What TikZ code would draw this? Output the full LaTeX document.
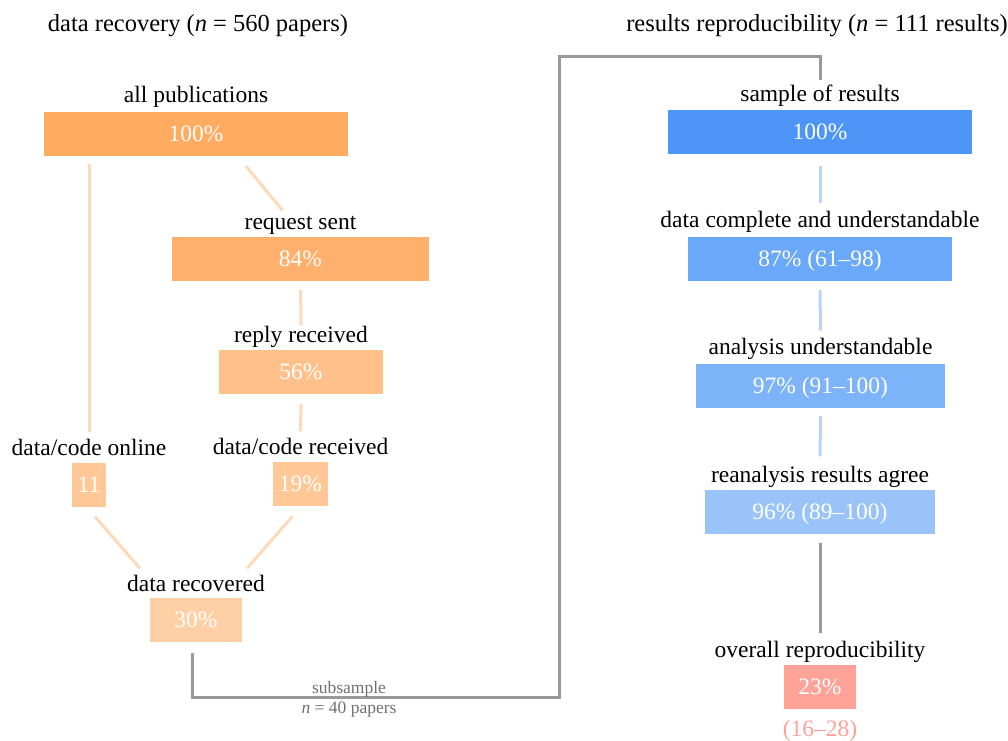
\documentclass[tikz,border=0pt]{standalone}
\usepackage{fontspec}
\setmainfont{Liberation Serif}
\usetikzlibrary{calc}

\definecolor{orangeA}{HTML}{FFAB60}
\definecolor{orangeB}{HTML}{FFB06C}
\definecolor{orangeC}{HTML}{FFC08A}
\definecolor{orangeD}{HTML}{FFC896}
\definecolor{orangeE}{HTML}{FFD0A6}
\definecolor{orangeLine}{HTML}{FFDAB8}
\definecolor{blueA}{HTML}{4D96F8}
\definecolor{blueB}{HTML}{6AA8F9}
\definecolor{blueC}{HTML}{7CB3F9}
\definecolor{blueD}{HTML}{9AC4F8}
\definecolor{blueLine}{HTML}{B8D4FA}
\definecolor{redA}{HTML}{FFA297}
\definecolor{grayLine}{HTML}{999999}
\definecolor{grayText}{HTML}{707070}

\begin{document}
\begin{tikzpicture}[
    x=1pt, y=-1pt,
    font=\fontsize{23.5}{28}\selectfont,
    every node/.style={inner sep=0pt},
    bar/.style 2 args={fill=#1, text=white, minimum width=#2pt,
      minimum height=44pt, text height=15pt, text depth=0pt},
    heading/.style={anchor=base},
    bigheading/.style={anchor=base, font=\fontsize{24.5}{29}\selectfont},
    smallnote/.style={anchor=base, text=grayText, font=\fontsize{17.5}{20}\selectfont},
    olink/.style={draw=orangeLine, line width=3pt},
    blink/.style={draw=blueLine, line width=3pt},
    glink/.style={draw=grayLine, line width=3pt},
  ]
  \useasboundingbox (0,0) rectangle (1008,740);

  % data recovery
  \node[bigheading] (recovH) at (198,31) {data recovery (\textit{n} = 560 papers)};
  \node[bar={orangeA}{304}] (allpub) at (196,134) {100\%};
  \node[bar={orangeB}{257}] (req) at (300.5,259) {84\%};
  \node[bar={orangeC}{164}] (reply) at (301,372) {56\%};
  \node[bar={orangeD}{34}] (dco) at (89,484.5) {11};
  \node[bar={orangeD}{55}] (dcr) at (300.5,484) {19\%};
  \node[bar={orangeE}{92}] (rec) at (196,620) {30\%};

  \node[heading] (allpubT) at ([yshift=9pt]allpub.north) {all publications};
  \node[heading] (reqT) at ([yshift=7pt]req.north) {request sent};
  \node[heading] (replyT) at ([yshift=7pt]reply.north) {reply received};
  \node[heading] (dcoT) at ([yshift=7pt]dco.north) {data/code online};
  \node[heading] (dcrT) at ([yshift=7pt]dcr.north) {data/code received};
  \node[heading] (recT) at ([yshift=6pt]rec.north) {data recovered};

  \draw[olink, shorten <=8pt, shorten >=7pt] (allpub.south -| dcoT.north) -- (dcoT.north);
  \draw[olink] ([xshift=50pt,yshift=-10pt]allpub.south) -- ([xshift=-18pt,yshift=6pt]reqT.north);
  \draw[olink, shorten <=9pt, shorten >=1pt] (req.south) -- (replyT.north);
  \draw[olink, shorten <=10pt, shorten >=7pt] (reply.south) -- (dcrT.north);
  \draw[olink] ([xshift=6pt,yshift=-10pt]dco.south) -- ([xshift=-56pt,yshift=7pt]recT.north);
  \draw[olink] ([xshift=-8pt,yshift=-10pt]dcr.south) -- ([xshift=51pt,yshift=7pt]recT.north);

  % results reproducibility
  \node[bigheading] (reproH) at (817,31) {results reproducibility (\textit{n} = 111 results)};
  \node[bar={blueA}{304}] (sample) at (820,132) {100\%};
  \node[bar={blueB}{264}] (compl) at (820,259) {87\% (61--98)};
  \node[bar={blueC}{249}] (anal) at (820.5,386) {97\% (91--100)};
  \node[bar={blueD}{230}] (agree) at (820,512) {96\% (89--100)};
  \node[bar={redA}{72}] (overall) at (820,687) {23\%};

  \node[heading] (sampleT) at ([yshift=8pt]sample.north) {sample of results};
  \node[heading] (complT) at ([yshift=9pt]compl.north) {data complete and understandable};
  \node[heading] (analT) at ([yshift=9pt]anal.north) {analysis understandable};
  \node[heading] (agreeT) at ([yshift=7pt]agree.north) {reanalysis results agree};
  \node[heading] (overallT) at ([yshift=7pt]overall.north) {overall reproducibility};
  \node[heading, text=redA] (overallCI) at ([yshift=-27pt]overall.south) {(16--28)};

  \draw[blink, shorten <=12pt, shorten >=8pt] (sample.south) -- (complT.north);
  \draw[blink, shorten <=9pt, shorten >=8pt] (compl.south) -- (analT.north);
  \draw[blink, shorten <=8pt, shorten >=10pt] (anal.south) -- (agreeT.north);
  \draw[glink, shorten <=9pt, shorten >=8pt] (agree.south) -- (overallT.north);

  % subsample link
  \coordinate (lowbend) at (559,697);
  \coordinate (topbend) at (559,56);
  \draw[glink] ([xshift=-4pt,yshift=-11pt]rec.south) |- (lowbend) -- (topbend)
    -| ([yshift=5pt]sampleT.north);
  \node[smallnote] (subT) at (349,693) {subsample};
  \node[smallnote] (subN) at (349,713) {\textit{n} = 40 papers};
\end{tikzpicture}
\end{document}
